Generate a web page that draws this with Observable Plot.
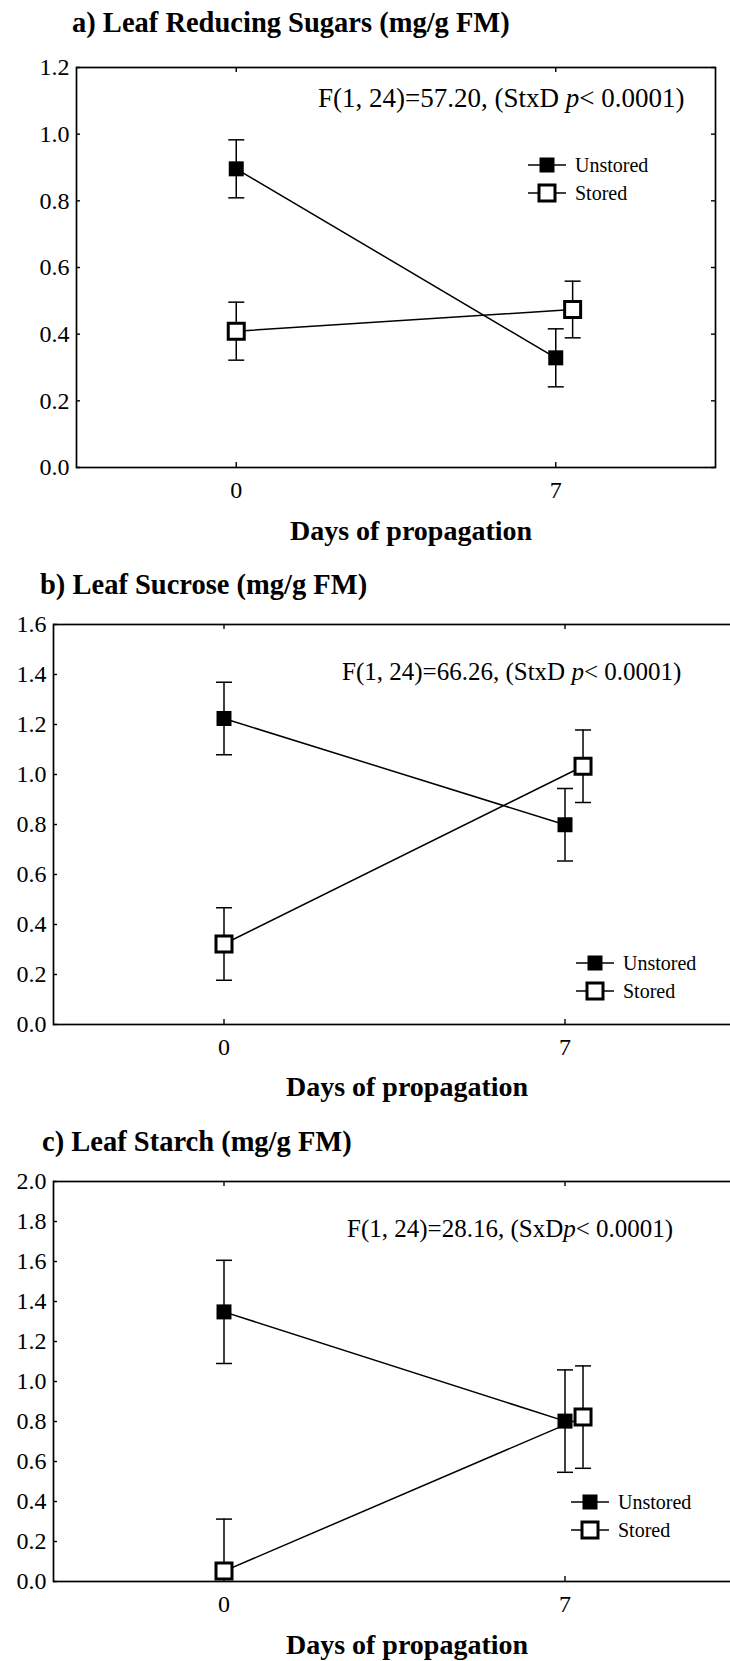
<!DOCTYPE html>
<html><head><meta charset="utf-8">
<script src="https://cdn.jsdelivr.net/npm/d3@7"></script>
<script src="https://cdn.jsdelivr.net/npm/@observablehq/plot@0.6"></script>
<style>
html,body{margin:0;padding:0;background:#fff;}
#page{position:relative;width:730px;height:1661px;overflow:hidden;font-family:"Liberation Serif","Times New Roman",serif;color:#000;background:#fff;}
.abs{position:absolute;white-space:nowrap;line-height:1;}
.title{font-weight:bold;font-size:28.5px;}
.xlabel{font-weight:bold;font-size:28px;}
.leg{font-size:20px;}
</style></head><body><div id="page"></div>
<script>
// ---------- data ----------
const days = [0, 7];
const storedDodge = [0, 0.37];          // stored series is drawn slightly right of day 7
const seriesNames = ["Unstored", "Stored"];
const xLabel = "Days of propagation";

// a) Leaf Reducing Sugars
const aTitle = "a) Leaf Reducing Sugars (mg/g FM)";
const aStat = ["F(1, 24)=57.20, (StxD ", "p", "< 0.0001)"];
const aYTicks = [0, 0.2, 0.4, 0.6, 0.8, 1.0, 1.2];
const aUnstoredMean = [0.896, 0.329];
const aUnstoredErr  = [0.087, 0.087];
const aStoredMean   = [0.409, 0.474];
const aStoredErr    = [0.087, 0.085];

// b) Leaf Sucrose
const bTitle = "b) Leaf Sucrose (mg/g FM)";
const bStat = ["F(1, 24)=66.26, (StxD ", "p", "< 0.0001)"];
const bYTicks = [0, 0.2, 0.4, 0.6, 0.8, 1.0, 1.2, 1.4, 1.6];
const bUnstoredMean = [1.224, 0.799];
const bUnstoredErr  = [0.145, 0.145];
const bStoredMean   = [0.322, 1.033];
const bStoredErr    = [0.145, 0.145];

// c) Leaf Starch
const cTitle = "c) Leaf Starch (mg/g FM)";
const cStat = ["F(1, 24)=28.16, (SxD", "p", "< 0.0001)"];
const cYTicks = [0, 0.2, 0.4, 0.6, 0.8, 1.0, 1.2, 1.4, 1.6, 1.8, 2.0];
const cUnstoredMean = [1.348, 0.802];
const cUnstoredErr  = [0.258, 0.256];
const cStoredMean   = [0.052, 0.822];
const cStoredErr    = [0.260, 0.256];

// ---------- drawing ----------
const page = document.getElementById("page");
const FONT = '"Liberation Serif", "Times New Roman", serif';

function rows(uMean, uErr, sMean, sErr) {
  const out = [];
  days.forEach((d, i) => {
    out.push({series: seriesNames[0], day: d, x: d, mean: uMean[i], lo: uMean[i] - uErr[i], hi: uMean[i] + uErr[i]});
  });
  days.forEach((d, i) => {
    out.push({series: seriesNames[1], day: d, x: d + storedDodge[i], mean: sMean[i], lo: sMean[i] - sErr[i], hi: sMean[i] + sErr[i]});
  });
  return out;
}

// horizontal cap symbol for error bars
const capSymbol = {
  draw(ctx, size) {
    const r = Math.sqrt(size / Math.PI);
    ctx.moveTo(-r, 0); ctx.lineTo(r, 0);
  }
};

function panel(cfg) {
  const data = rows(cfg.uMean, cfg.uErr, cfg.sMean, cfg.sErr);
  const uns = data.filter(d => d.series === "Unstored");
  const sto = data.filter(d => d.series === "Stored");
  const plotW = cfg.width - cfg.ml - cfg.mr;
  const plotH = 400;
  const svg = Plot.plot({
    width: cfg.width,
    height: cfg.mt + plotH + cfg.mb,
    marginLeft: cfg.ml, marginRight: cfg.mr, marginTop: cfg.mt, marginBottom: cfg.mb,
    x: {domain: [-3.5, 10.5], label: null},
    y: {domain: [0, cfg.ymax], label: null},
    style: {background: "transparent", overflow: "visible", color: "#000"},
    marks: [
      Plot.axisY(cfg.yTicks, {tickSize: 0, tickPadding: 7, tickFormat: d3.format(".1f")}),
      Plot.axisX(days, {tickSize: 0, tickPadding: 13, tickFormat: d => String(d)}),
      // inward tick marks on the four sides
      Plot.tickY(cfg.yTicks, {y: d => d, insetRight: plotW - 4, stroke: "#000", strokeWidth: 1.4}),
      Plot.tickY(cfg.yTicks, {y: d => d, insetLeft: plotW - 4, stroke: "#000", strokeWidth: 1.4}),
      Plot.tickX(days, {x: d => d, insetTop: plotH - 5, stroke: "#000", strokeWidth: 1.4}),
      Plot.tickX(days, {x: d => d, insetBottom: plotH - 5, stroke: "#000", strokeWidth: 1.4}),
      Plot.frame({stroke: "#000", strokeWidth: 1.7}),
      // connecting lines
      Plot.line(uns, {x: "x", y: "mean", stroke: "#000", strokeWidth: 1.5}),
      Plot.line(sto, {x: "x", y: "mean", stroke: "#000", strokeWidth: 1.5}),
      // error bars
      Plot.ruleX(data, {x: "x", y1: "lo", y2: "hi", stroke: "#000", strokeWidth: 1.5, clip: true}),
      Plot.dot(data, {x: "x", y: "hi", symbol: capSymbol, r: 8, stroke: "#000", strokeWidth: 1.5, fill: "none", clip: true}),
      Plot.dot(data, {x: "x", y: "lo", symbol: capSymbol, r: 8, stroke: "#000", strokeWidth: 1.5, fill: "none", clip: true}),
      // markers
      Plot.dot(uns, {x: "x", y: "mean", symbol: "square", r: 15 / Math.sqrt(Math.PI), fill: "#000", stroke: "none"}),
      Plot.dot(sto, {x: "x", y: "mean", symbol: "square", r: 16 / Math.sqrt(Math.PI), fill: "#fff", stroke: "#000", strokeWidth: 3})
    ]
  });
  svg.style.position = "absolute";
  svg.style.left = "0px";
  svg.style.top = cfg.top + "px";
  svg.style.maxWidth = "none";
  svg.setAttribute("font-family", FONT);
  svg.setAttribute("font-size", "24");
  svg.querySelectorAll("text").forEach(t => {
    t.style.setProperty("font-family", FONT, "important");
    t.style.setProperty("font-size", "24px", "important");
    t.setAttribute("font-family", FONT);
    t.setAttribute("font-size", "24");
  });
  svg.querySelectorAll("g").forEach(g => {
    if (g.hasAttribute("font-family")) g.setAttribute("font-family", FONT);
  });
  page.appendChild(svg);

  addText(cfg.title, "title", cfg.titlePos[0], cfg.titlePos[1], false);
  addText(xLabel, "xlabel", cfg.xlabPos[0], cfg.xlabPos[1], true);
  const ann = document.createElement("div");
  ann.className = "abs";
  ann.style.fontSize = cfg.annSize + "px";
  ann.appendChild(document.createTextNode(cfg.stat[0]));
  const it = document.createElement("i"); it.textContent = cfg.stat[1]; ann.appendChild(it);
  ann.appendChild(document.createTextNode(cfg.stat[2]));
  ann.style.left = cfg.annPos[0] + "px";
  ann.style.top = cfg.annPos[1] + "px";
  ann.style.transform = "translateY(-50%)";
  page.appendChild(ann);
  legend(cfg.legPos[0], cfg.legPos[1]);
}

function addText(txt, cls, x, y, center) {
  const el = document.createElement("div");
  el.className = "abs " + cls;
  el.textContent = txt;
  el.style.left = x + "px";
  el.style.top = y + "px";
  el.style.transform = center ? "translate(-50%,-50%)" : "translateY(-50%)";
  page.appendChild(el);
}

function legend(cx, cy) {
  // cx, cy: centre of first legend marker
  const rowGap = 28;
  const svg = d3.create("svg").attr("width", 50).attr("height", 60)
    .style("position", "absolute").style("left", (cx - 25) + "px").style("top", (cy - 15) + "px");
  seriesNames.forEach((name, i) => {
    const y = 15 + i * rowGap;
    svg.append("line").attr("x1", 6).attr("x2", 44).attr("y1", y).attr("y2", y)
      .attr("stroke", "#000").attr("stroke-width", 1.5);
    if (i === 0) {
      svg.append("rect").attr("x", 25 - 7.5).attr("y", y - 7.5).attr("width", 15).attr("height", 15).attr("fill", "#000");
    } else {
      svg.append("rect").attr("x", 25 - 8).attr("y", y - 8).attr("width", 16).attr("height", 16)
        .attr("fill", "#fff").attr("stroke", "#000").attr("stroke-width", 3);
    }
    const t = document.createElement("div");
    t.className = "abs leg";
    t.textContent = name;
    t.style.left = (cx + 28) + "px";
    t.style.top = (cy + i * rowGap) + "px";
    t.style.transform = "translateY(-50%)";
    page.appendChild(t);
  });
  page.appendChild(svg.node());
}

panel({top: 40, width: 730, ml: 76, mr: 15, mt: 27, mb: 40, ymax: 1.2, yTicks: aYTicks,
  uMean: aUnstoredMean, uErr: aUnstoredErr, sMean: aStoredMean, sErr: aStoredErr,
  title: aTitle, titlePos: [72, 23], xlabPos: [411, 531], stat: aStat, annSize: 27, annPos: [318, 98], legPos: [547, 165]});

panel({top: 600, width: 735, ml: 53, mr: 0, mt: 24, mb: 40, ymax: 1.6, yTicks: bYTicks,
  uMean: bUnstoredMean, uErr: bUnstoredErr, sMean: bStoredMean, sErr: bStoredErr,
  title: bTitle, titlePos: [40, 585], xlabPos: [407, 1087], stat: bStat, annSize: 25, annPos: [342, 671], legPos: [595, 963]});

panel({top: 1157, width: 735, ml: 53, mr: 0, mt: 24, mb: 40, ymax: 2.0, yTicks: cYTicks,
  uMean: cUnstoredMean, uErr: cUnstoredErr, sMean: cStoredMean, sErr: cStoredErr,
  title: cTitle, titlePos: [42, 1142], xlabPos: [407, 1645], stat: cStat, annSize: 25, annPos: [347, 1228], legPos: [590, 1502]});
</script>
</body></html>
